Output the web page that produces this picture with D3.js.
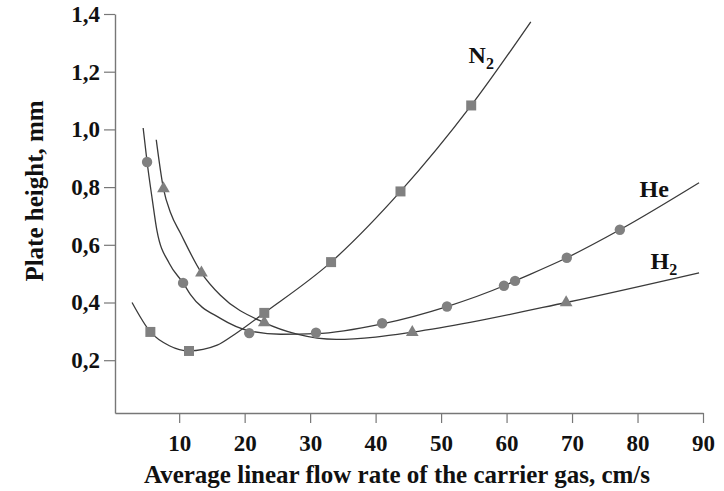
<!DOCTYPE html>
<html>
<head>
<meta charset="utf-8">
<script src="https://cdn.jsdelivr.net/npm/d3@7"></script>
<style>
	body { margin: 0; background: #fff; }
	svg text { font-family: "Liberation Serif", "Times New Roman", serif; font-weight: bold; fill: #111; }
</style>
</head>
<body>
<svg id="chart" width="724" height="491"></svg>
<script>
// tick labels
var xTicks = [10, 20, 30, 40, 50, 60, 70, 80, 90];
var yTicks = [0.2, 0.4, 0.6, 0.8, 1.0, 1.2, 1.4];

// measured points (markers)
var n2Points = [[5.6, 0.298], [11.5, 0.232], [23.0, 0.364], [33.2, 0.540], [43.8, 0.785], [54.6, 1.083]];
var hePoints = [[5.1, 0.887], [10.6, 0.468], [20.7, 0.294], [30.9, 0.295], [41.0, 0.328], [50.9, 0.386],
	[59.6, 0.458], [61.3, 0.475], [69.2, 0.555], [77.3, 0.652]];
var h2Points = [[7.6, 0.795], [13.4, 0.503], [23.0, 0.330], [45.6, 0.297], [69.1, 0.400]];

// fitted curves
var n2Curve = [[2.8, 0.400], [5.6, 0.298], [8.5, 0.250], [11.5, 0.232], [15.8, 0.252], [18.5, 0.290],
	[23.0, 0.364], [33.2, 0.540], [43.8, 0.785], [54.6, 1.083], [63.7, 1.373]];
var heCurve = [[4.5, 1.005], [5.1, 0.887], [5.9, 0.756], [6.6, 0.650], [8.5, 0.535], [10.6, 0.468],
	[11.7, 0.428], [16.3, 0.345], [20.7, 0.302], [25.5, 0.290], [30.9, 0.292], [41.0, 0.326],
	[50.9, 0.386], [59.6, 0.458], [61.3, 0.475], [69.2, 0.555], [77.3, 0.652], [89.4, 0.815]];
var h2Curve = [[6.5, 0.964], [7.6, 0.795], [8.7, 0.710], [10.2, 0.640], [13.4, 0.503], [16.3, 0.425],
	[23.0, 0.330], [28.0, 0.290], [34.0, 0.272], [40.0, 0.280], [45.6, 0.297], [49.8, 0.312],
	[69.1, 0.400], [89.4, 0.503]];

var labels = [
	{name: "N", sub: "2", x: 54.2, y: 1.23},
	{name: "He", sub: "", x: 80.3, y: 0.765},
	{name: "H", sub: "2", x: 82.0, y: 0.515}
];

var svg = d3.select("#chart");

var x = d3.scaleLinear().domain([0.2, 90]).range([115, 703]);
var y = d3.scaleLinear().domain([0.017, 1.4]).range([413, 14]);

var fmt = function(d) { return d3.format(".1f")(d).replace(".", ","); };

var gx = svg.append("g")
	.attr("transform", "translate(0,413)")
	.call(d3.axisBottom(x).tickValues(xTicks).tickSize(10).tickSizeOuter(0).tickPadding(12));
var gy = svg.append("g")
	.attr("transform", "translate(115,0)")
	.call(d3.axisLeft(y).tickValues(yTicks).tickFormat(fmt).tickSize(11).tickSizeOuter(0).tickPadding(4));

[gx, gy].forEach(function(g) {
	g.select(".domain").attr("stroke", "#777").attr("stroke-width", 1.4);
	g.selectAll(".tick line").attr("stroke", "#777").attr("stroke-width", 1.2);
	g.selectAll(".tick text").attr("font-size", 23).attr("font-family", null).attr("fill", "#111");
});

var line = d3.line()
	.x(function(d) { return x(d[0]); })
	.y(function(d) { return y(d[1]); })
	.curve(d3.curveMonotoneX);

[n2Curve, heCurve, h2Curve].forEach(function(c) {
	svg.append("path")
		.attr("d", line(c))
		.attr("fill", "none")
		.attr("stroke", "#3a3a3a")
		.attr("stroke-width", 1.3);
});

var series = [
	{pts: n2Points, sym: d3.symbolSquare, size: 100},
	{pts: hePoints, sym: d3.symbolCircle, size: 85},
	{pts: h2Points, sym: d3.symbolTriangle, size: 70}
];
series.forEach(function(s) {
	svg.append("g").selectAll("path")
		.data(s.pts).enter()
		.append("path")
			.attr("d", d3.symbol().type(s.sym).size(s.size))
			.attr("transform", function(d) { return "translate(" + x(d[0]) + "," + y(d[1]) + ")"; })
			.attr("fill", "#808080");
});

var lt = svg.append("g").selectAll("text")
	.data(labels).enter()
	.append("text")
		.attr("x", function(d) { return x(d.x); })
		.attr("y", function(d) { return y(d.y); })
		.attr("font-size", 24);
lt.append("tspan").text(function(d) { return d.name; });
lt.append("tspan")
	.attr("font-size", 16)
	.attr("dy", 6)
	.text(function(d) { return d.sub; });

svg.append("text")
	.attr("x", 397)
	.attr("y", 483)
	.attr("text-anchor", "middle")
	.attr("font-size", 25)
	.text("Average linear flow rate of the carrier gas, cm/s");

svg.append("text")
	.attr("transform", "translate(43,191) rotate(-90)")
	.attr("text-anchor", "middle")
	.attr("font-size", 25)
	.text("Plate height, mm");
</script>
</body>
</html>
